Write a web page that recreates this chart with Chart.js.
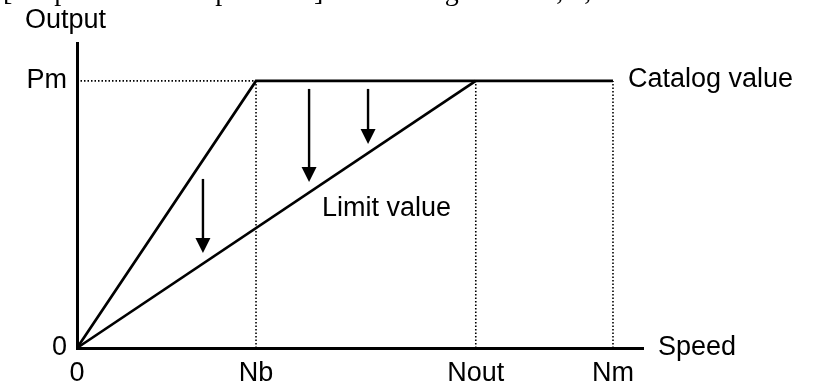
<!DOCTYPE html>
<html>
<head>
<meta charset="utf-8">
<script src="https://cdn.jsdelivr.net/npm/chart.js@4"></script>
<style>
  html, body { margin: 0; padding: 0; background: #fff; }
  #wrap { width: 813px; height: 385px; position: relative; }
</style>
</head>
<body>
<div id="wrap"><canvas id="chart" width="813" height="385"></canvas></div>
<script>
// speed axis: 0, Nb, Nout, Nm  (Nm = 10 units)
const xTickValues = [0, 3.34, 7.44, 10];
const xTickLabels = ["0", "Nb", "Nout", "Nm"];
const yTickValues = [0, 10];
const yTickLabels = ["0", "Pm"];

const catalogX = [0, 3.34, 10];
const catalogY = [0, 10, 10];
const limitX = [0, 7.44];
const limitY = [0, 10];

// arrows: x, start (top) and tip values
const arrowX = [2.35, 4.33, 5.43];
const arrowTop = [6.33, 9.7, 9.7];
const arrowTip = [3.56, 6.22, 7.64];

const X_END = 10.56;
const Y_END = 11.42;
const FONT = '"Liberation Sans", Arial, sans-serif';

const pts = (xs, ys) => xs.map((x, i) => ({ x, y: ys[i] }));

const dotted = {
  borderColor: "#000",
  borderWidth: 1.6,
  borderDash: [1.5, 2],
  pointRadius: 0,
  fill: false,
  clip: false
};

const datasets = [];
// dotted guide from y axis to the Pm corner
datasets.push(Object.assign({ data: [{ x: 0, y: yTickValues[1] }, { x: xTickValues[1], y: yTickValues[1] }] }, dotted));
// dotted verticals at Nb, Nout, Nm
xTickValues.slice(1).forEach((v) => {
  datasets.push(Object.assign({ data: [{ x: v, y: 0 }, { x: v, y: yTickValues[1] }] }, dotted));
});
datasets.push({
  label: "Catalog value",
  data: pts(catalogX, catalogY),
  borderColor: "#000",
  borderWidth: 2.7,
  pointRadius: 0,
  clip: false
});
datasets.push({
  label: "Limit value",
  data: pts(limitX, limitY),
  borderColor: "#000",
  borderWidth: 2.7,
  pointRadius: 0,
  clip: false
});

const textPlugin = {
  id: "texts",
  afterDraw(chart) {
    const ctx = chart.ctx;
    const xs = chart.scales.x, ys = chart.scales.y;
    ctx.save();
    ctx.fillStyle = "#000";
    ctx.strokeStyle = "#000";

    // arrows
    ctx.lineWidth = 2.4;
    arrowX.forEach((v, i) => {
      const px = xs.getPixelForValue(v);
      const top = ys.getPixelForValue(arrowTop[i]);
      const tip = ys.getPixelForValue(arrowTip[i]);
      const head = 15;
      ctx.beginPath();
      ctx.moveTo(px, top);
      ctx.lineTo(px, tip - head + 2);
      ctx.stroke();
      ctx.beginPath();
      ctx.moveTo(px - 7.5, tip - head);
      ctx.lineTo(px + 7.5, tip - head);
      ctx.lineTo(px, tip);
      ctx.closePath();
      ctx.fill();
    });

    ctx.font = "27px " + FONT;
    ctx.textBaseline = "middle";
    ctx.textAlign = "left";
    ctx.fillText("Output", 25, 21);
    ctx.fillText("Catalog value", xs.getPixelForValue(10) + 15, ys.getPixelForValue(10) - 1);
    ctx.fillText("Speed", chart.chartArea.right + 15, chart.chartArea.bottom);
    ctx.fillText("Limit value", xs.getPixelForValue(4.57), ys.getPixelForValue(5.24));

    // clipped caption line at the top edge
    ctx.font = '28px "Liberation Serif", "Times New Roman", serif';
    ctx.textBaseline = "alphabetic";
    ctx.fillText("[Output limit ratio pattern 3]  \u2192  Setting data = 4, 5, 6", 3, 0);
    ctx.restore();
  }
};

new Chart(document.getElementById("chart").getContext("2d"), {
  type: "line",
  data: { datasets },
  options: {
    responsive: false,
    animation: false,
    events: [],
    layout: { padding: { top: 43, right: 170, left: 0, bottom: 0 } },
    plugins: { legend: { display: false }, tooltip: { enabled: false } },
    scales: {
      x: {
        type: "linear",
        min: 0,
        max: X_END,
        afterFit: (s) => { s.height = 37; },
        afterBuildTicks: (s) => { s.ticks = xTickValues.map((v) => ({ value: v })); },
        grid: { display: false, drawTicks: false },
        border: { display: true, color: "#000", width: 3 },
        ticks: {
          autoSkip: false,
          maxRotation: 0,
          padding: 9,
          color: "#000",
          font: { family: FONT, size: 27 },
          callback: (v) => xTickLabels[xTickValues.indexOf(v)]
        }
      },
      y: {
        type: "linear",
        min: 0,
        max: Y_END,
        afterFit: (s) => { s.width = 77; },
        afterBuildTicks: (s) => { s.ticks = yTickValues.map((v) => ({ value: v })); },
        grid: { display: false, drawTicks: false },
        border: { display: true, color: "#000", width: 3 },
        ticks: {
          autoSkip: false,
          padding: 10,
          color: "#000",
          font: { family: FONT, size: 27 },
          callback: (v) => yTickLabels[yTickValues.indexOf(v)]
        }
      }
    }
  },
  plugins: [textPlugin]
});
</script>
</body>
</html>
